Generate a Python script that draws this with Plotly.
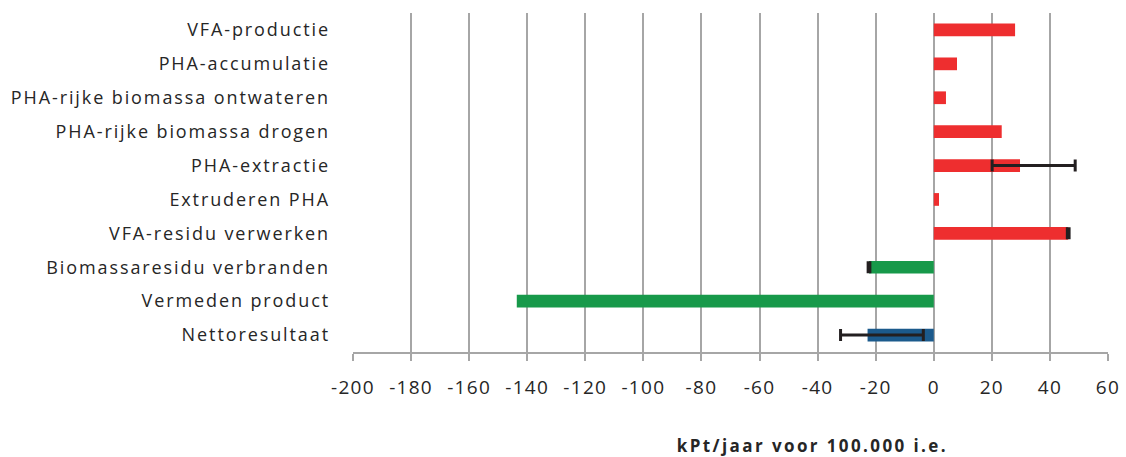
import plotly.graph_objects as go

categories = [
    "VFA-productie",
    "PHA-accumulatie",
    "PHA-rijke biomassa ontwateren",
    "PHA-rijke biomassa drogen",
    "PHA-extractie",
    "Extruderen PHA",
    "VFA-residu verwerken",
    "Biomassaresidu verbranden",
    "Vermeden product",
    "Nettoresultaat",
]
values = [28.0, 8.0, 4.2, 23.4, 29.7, 1.8, 46.3, -22.3, -143.6, -22.8]
err_plus = [None, None, None, None, 19.0, None, 0.3, 0.3, None, 19.2]
err_minus = [None, None, None, None, 9.6, None, 0.3, 0.3, None, 9.3]
bar_colors = ["#EE2E2F"] * 7 + ["#17994A", "#17994A", "#1B5A8C"]
x_ticks = list(range(-200, 61, 20))
x_title = "<b>kPt/jaar voor 100.000 i.e.</b>"

XMIN, XMAX = -200, 60
FONT = "Open Sans"
GRAY = "#A6A6A6"
TXT = "#262626"

fig = go.Figure()
fig.add_trace(go.Bar(
    y=categories, x=values, orientation="h",
    marker=dict(color=bar_colors, line=dict(width=0)),
    width=0.375,
    showlegend=False, hoverinfo="x+y",
))

idx = [i for i, e in enumerate(err_plus) if e is not None]
fig.add_trace(go.Scatter(
    y=[categories[i] for i in idx], x=[values[i] for i in idx],
    mode="markers", marker=dict(size=1, opacity=0),
    error_x=dict(type="data", symmetric=False,
                 array=[err_plus[i] for i in idx],
                 arrayminus=[err_minus[i] for i in idx],
                 color="#231F20", thickness=3, width=6),
    showlegend=False, hoverinfo="skip",
))

n = len(categories)
fig.update_layout(
    width=1126, height=457,
    margin=dict(l=353, r=18, t=13, b=105),
    paper_bgcolor="white", plot_bgcolor="white",
    font=dict(family=FONT, size=18, color=TXT),
    xaxis=dict(
        range=[XMIN, XMAX], tickvals=x_ticks, ticktext=[str(v) for v in x_ticks],
        showgrid=True, gridcolor=GRAY, gridwidth=1.5,
        showline=True, linecolor=GRAY, linewidth=2,
        ticks="outside", ticklen=7, tickcolor=GRAY, tickwidth=1.5,
        zeroline=False, ticklabelstandoff=10, automargin=False,
        tickfont=dict(size=19, color=TXT),
    ),
    yaxis=dict(
        type="category", categoryorder="array", categoryarray=categories,
        range=[n - 0.5, -0.5], showgrid=False, showline=False, ticks="",
        zeroline=False, ticklabelstandoff=22, automargin=False,
        tickfont=dict(size=18, color=TXT),
    ),
    yaxis2=dict(
        overlaying="y", anchor="free", side="left",
        position=(0 - XMIN) / (XMAX - XMIN),
        range=[-0.5, n - 0.5], tickvals=[i - 0.5 for i in range(n + 1)],
        showticklabels=False, showgrid=False, zeroline=False, automargin=False,
        showline=True, linecolor=GRAY, linewidth=2,
        ticks="outside", ticklen=9, tickcolor=GRAY, tickwidth=2,
    ),
    annotations=[dict(
        text=x_title, xref="paper", yref="paper", x=0.608, y=-0.277,
        xanchor="center", yanchor="middle", showarrow=False,
        font=dict(family=FONT, size=17, color=TXT),
    )],
)

post = """
document.body.style.margin = '0';
document.querySelectorAll('.ytick text').forEach(function(t){ t.style.letterSpacing = '1.9px'; });
document.querySelectorAll('.xtick text').forEach(function(t){ t.style.letterSpacing = '1.3px'; });
document.querySelectorAll('.annotation-text').forEach(function(t){ t.style.letterSpacing = '2.4px'; });
"""

fig.write_html("out.html", post_script=post, config={"displayModeBar": False})
